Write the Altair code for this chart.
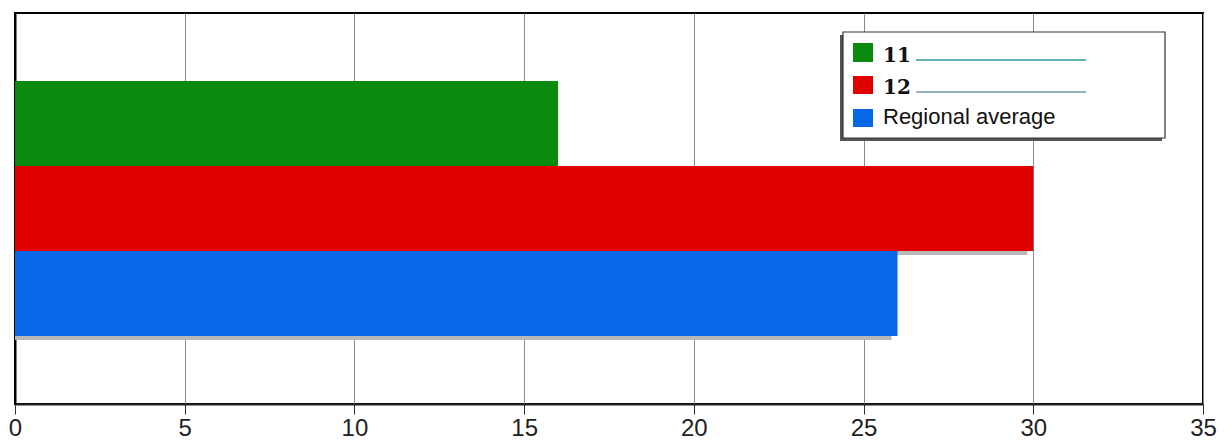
import altair as alt
import pandas as pd

categories = ["11", "12", "Regional average"]
values = [16.0, 30.0, 26.0]
colors = ["#0b8a10", "#e10000", "#0767e6"]
x_ticks = [0, 5, 10, 15, 20, 25, 30, 35]

df = pd.DataFrame({"cat": categories, "val": values})
one = pd.DataFrame({"k": [0]})

W, H = 1188, 391

y_enc = alt.Y(
    "cat:N", sort=categories,
    scale=alt.Scale(paddingInner=0, paddingOuter=0.8),
    axis=alt.Axis(labels=False, ticks=False, title=None, domainColor="black",
                  domainWidth=2, grid=False),
)
x_enc = alt.X(
    "val:Q",
    scale=alt.Scale(domain=[0, 35], nice=False, zero=True),
    axis=alt.Axis(values=x_ticks, title=None, grid=True, gridColor="#8a8a8a",
                  gridWidth=1, tickSize=10, tickColor="#333", domainColor="#222",
                  domainWidth=2, labelFontSize=24, labelFont="Liberation Sans",
                  labelColor="#222", labelPadding=2, labelFlush=False, format="d"),
)

shadow = alt.Chart(df).mark_bar(color="#b8b8b8", yOffset=4, y2Offset=4, xOffset=-6).encode(
    x=x_enc, x2=alt.datum(0), y=y_enc
)
bars = alt.Chart(df).mark_bar().encode(
    x=x_enc, x2=alt.datum(0), y=y_enc,
    color=alt.Color("cat:N", scale=alt.Scale(domain=categories, range=colors), legend=None),
)

base = alt.Chart(one)
leg_shadow = base.mark_rect(color="#555").encode(
    x=alt.value(825), x2=alt.value(1147), y=alt.value(22), y2=alt.value(128))
leg_box = base.mark_rect(fill="white", stroke="#333", strokeWidth=1.2).encode(
    x=alt.value(828), x2=alt.value(1150), y=alt.value(19), y2=alt.value(125))

layers = [shadow, bars, leg_shadow, leg_box]
sq_y = [(30, 49), (63, 81), (96, 114)]
txt_y = [49, 81, 111]
for i, cat in enumerate(categories):
    layers.append(base.mark_rect(color=colors[i]).encode(
        x=alt.value(838), x2=alt.value(858), y=alt.value(sq_y[i][0]), y2=alt.value(sq_y[i][1])))
    if i < 2:
        layers.append(base.mark_text(text=cat, font="DejaVu Serif", fontWeight="bold",
                                     fontSize=20, align="left", baseline="alphabetic",
                                     color="#111").encode(x=alt.value(868), y=alt.value(txt_y[i])))
        layers.append(base.mark_rule(color="#2e9a9e" if i == 0 else "#6f9aa8", strokeWidth=1.3).encode(
            x=alt.value(901), x2=alt.value(1071), y=alt.value(txt_y[i] - 2)))
    else:
        layers.append(base.mark_text(text=cat, font="Liberation Sans", fontSize=22,
                                     align="left", baseline="alphabetic",
                                     color="#111").encode(x=alt.value(868), y=alt.value(txt_y[i])))

chart = alt.layer(*layers).properties(
    width=W, height=H,
    padding={"left": 15, "top": 13, "right": 26, "bottom": 38},
    autosize=alt.AutoSizeParams(type="none"),
    background="white",
).configure_view(stroke="black", strokeWidth=2)

chart.save("out.html", embed_options={"renderer": "svg", "actions": False})
